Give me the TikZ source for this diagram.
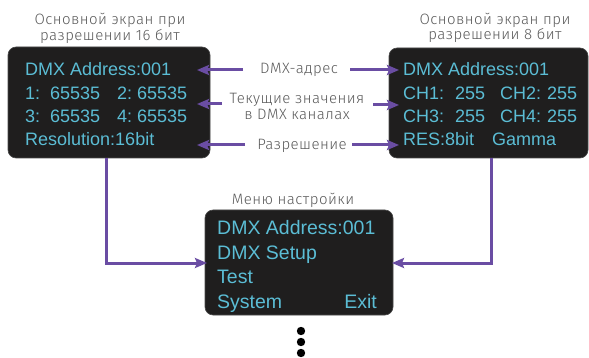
\documentclass[tikz,border=0pt]{standalone}
\usepackage{fontspec}
\setmainfont{Liberation Sans}
\newfontfamily\lblfont{Fira Sans Light}[LetterSpace=3]
\usetikzlibrary{arrows.meta}
\definecolor{screenbg}{HTML}{1F1E1E}
\definecolor{screenedge}{HTML}{4A4A4A}
\definecolor{screentxt}{HTML}{5BBDD5}
\definecolor{linkcol}{HTML}{6A4DA3}
\definecolor{captxt}{HTML}{5A5A5A}
\begin{document}
\begin{tikzpicture}[x=1pt,y=-1pt,
  screen/.style={draw=screenedge,line width=0.6pt,fill=screenbg,rounded corners=8pt},
  scr/.style={anchor=base west,inner sep=0pt,text=screentxt,font=\fontsize{18}{21}\selectfont},
  menu/.style={scr,font=\fontsize{19.5}{23}\selectfont},
  captext/.style={anchor=base,inner sep=0pt,text=captxt,font=\lblfont\fontsize{15}{18}\selectfont},
  link/.style={draw=linkcol,line width=3pt,-{Stealth[length=12pt,width=10pt,inset=2pt]}},
]
\useasboundingbox (0,0) rectangle (589,358);

% the three screens
\draw[screen] (8,47) rectangle (210,158);
\draw[screen] (389,48) rectangle (588,158);
\draw[screen] (205,210) rectangle (393,315);

% screen captions
\node[captext] (t16a) at (110,25) {Основной экран при};
\node[captext] (t16b) at (110,41) {разрешении 16 бит};
\node[captext] (t8a) at (495,25) {Основной экран при};
\node[captext] (t8b) at (495,40) {разрешении 8 бит};
\node[captext] (tmenu) at (293,205) {Меню настройки};

% 16-bit screen contents
\node[scr] (a1) at (25,76) {DMX Address:001};
\node[scr] (a2) at (25,99.5) {1:};
\node[scr] (a3) at (50,99.5) {65535};
\node[scr] (a4) at (117,99.5) {2:};
\node[scr] (a5) at (137,99.5) {65535};
\node[scr] (a6) at (25,122.5) {3:};
\node[scr] (a7) at (50,122.5) {65535};
\node[scr] (a8) at (117,122.5) {4:};
\node[scr] (a9) at (137,122.5) {65535};
\node[scr] (a10) at (25,146) {Resolution:16bit};

% 8-bit screen contents
\node[scr] (b1) at (403,76) {DMX Address:001};
\node[scr] (b2) at (403,99.5) {CH1:};
\node[scr] (b3) at (455,99.5) {255};
\node[scr] (b4) at (500,99.5) {CH2:};
\node[scr] (b5) at (547,99.5) {255};
\node[scr] (b6) at (403,122.5) {CH3:};
\node[scr] (b7) at (455,122.5) {255};
\node[scr] (b8) at (500,122.5) {CH4:};
\node[scr] (b9) at (547,122.5) {255};
\node[scr] (b10) at (403,146) {RES:8bit};
\node[scr] (b11) at (492,146) {Gamma};

% setup menu contents
\node[menu] (m1) at (217,235) {DMX Address:001};
\node[menu] (m2) at (217,259.5) {DMX Setup};
\node[menu] (m3) at (217,283.5) {Test};
\node[menu] (m4) at (217,308) {System};
\node[menu,anchor=base east] (m5) at (377,308) {Exit};

% middle labels
\node[captext] (l1) at (299,74) {DMX-адрес};
\node[captext] (l2a) at (297,104) {Текущие значения};
\node[captext] (l2b) at (297,120) {в DMX каналах};
\node[captext] (l3) at (302,150) {Разрешение};

% arrow end points
\coordinate (p1l) at (243,70);  \coordinate (q1l) at (197,70);
\coordinate (p1r) at (350,70);  \coordinate (q1r) at (399,70);
\coordinate (p2l) at (222,104); \coordinate (q2l) at (197,104);
\coordinate (p2r) at (373,105); \coordinate (q2r) at (399,105);
\coordinate (p3l) at (245,145); \coordinate (q3l) at (197,145);
\coordinate (p3r) at (352,145); \coordinate (q3r) at (399,145);
\draw[link] (p1l) -- (q1l);
\draw[link] (p1r) -- (q1r);
\draw[link] (p2l) -- (q2l);
\draw[link] (p2r) -- (q2r);
\draw[link] (p3l) -- (q3l);
\draw[link] (p3r) -- (q3r);

% links from the main screens to the setup menu
\coordinate (s16) at (106,158);
\coordinate (s8) at (491,158);
\coordinate (e16) at (207,263);
\coordinate (e8) at (392,263);
\draw[link] (s16) -- (106,263) -- (e16);
\draw[link] (s8) -- (491,263) -- (e8);

% continuation marks
\fill[black] (301,331) circle (4.2pt);
\fill[black] (301,342) circle (4.2pt);
\fill[black] (301,353) circle (4.2pt);
\end{tikzpicture}
\end{document}
